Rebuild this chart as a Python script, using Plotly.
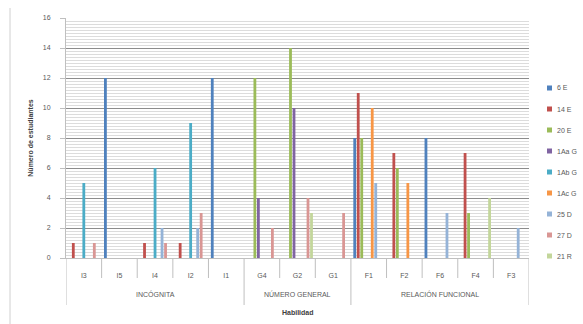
import plotly.graph_objects as go

groups = ["INCÓGNITA"] * 5 + ["NÚMERO GENERAL"] * 3 + ["RELACIÓN FUNCIONAL"] * 5
skills = ["I3", "I5", "I4", "I2", "I1", "G4", "G2", "G1", "F1", "F2", "F6", "F4", "F3"]

series_names = ["6 E", "14 E", "20 E", "1Aa G", "1Ab G", "1Ac G", "25 D", "27 D", "21 R"]
s_6E   = [0, 12, 0, 0, 12, 0, 0, 0, 8, 0, 8, 0, 0]
s_14E  = [1, 0, 1, 1, 0, 0, 0, 0, 11, 7, 0, 7, 0]
s_20E  = [0, 0, 0, 0, 0, 12, 14, 0, 8, 6, 0, 3, 0]
s_1AaG = [0, 0, 0, 0, 0, 4, 10, 0, 0, 0, 0, 0, 0]
s_1AbG = [5, 0, 6, 9, 0, 0, 0, 0, 0, 0, 0, 0, 0]
s_1AcG = [0, 0, 0, 0, 0, 0, 0, 0, 10, 5, 0, 0, 0]
s_25D  = [0, 0, 2, 2, 0, 0, 0, 0, 5, 0, 3, 0, 2]
s_27D  = [1, 0, 1, 3, 0, 2, 4, 3, 0, 0, 0, 0, 0]
s_21R  = [0, 0, 0, 0, 0, 0, 3, 0, 0, 0, 0, 4, 0]
all_series = [s_6E, s_14E, s_20E, s_1AaG, s_1AbG, s_1AcG, s_25D, s_27D, s_21R]
colors = ["#4F81BD", "#C0504D", "#9BBB59", "#8064A2", "#4BACC6",
          "#F79646", "#95B3D7", "#D99694", "#C3D69B"]

fig = go.Figure()
for name, vals, col in zip(series_names, all_series, colors):
    fig.add_trace(go.Bar(x=skills, y=vals, name=name, showlegend=False,
                         marker=dict(color=col, line=dict(width=0))))

font_fam = "Liberation Sans, Arial, sans-serif"
L, T, W, H = 66, 18, 463.0, 240.0
def px_x(px):
    return (px - L) / W
def px_y(py):
    return (T + H - py) / H

fig.update_layout(
    width=583, height=324,
    margin=dict(l=66, r=54, t=18, b=66, autoexpand=False),
    paper_bgcolor="white", plot_bgcolor="white",
    barmode="group", bargap=0.115, bargroupgap=0.2,
    font=dict(family=font_fam, size=7, color="#595959"),
    showlegend=False,
    xaxis=dict(type="category", showgrid=False, automargin=False,
               range=[-0.5, len(skills) - 0.5],
               showline=True, linecolor="#bfbfbf", linewidth=1,
               ticks="outside", ticklen=11, tickcolor="rgba(0,0,0,0)",
               tickfont=dict(size=7, color="#595959")),
    yaxis=dict(range=[0, 16], dtick=2, automargin=False,
               showgrid=True, gridcolor="#8c8c8c", gridwidth=1,
               minor=dict(dtick=0.2, showgrid=True, gridcolor="#dcdcdc", gridwidth=1),
               showline=True, linecolor="#bfbfbf", linewidth=1,
               ticks="outside", ticklen=5, tickcolor="#bfbfbf",
               ticklabelstandoff=8,
               tickfont=dict(size=7, color="#595959"),
               zeroline=False,
               title=dict(text="<b>Número de estudiantes</b>",
                          font=dict(size=7, color="#404040"), standoff=8)),
)

# legend (drawn as small squares + labels)
for i, (name, col) in enumerate(zip(series_names, colors)):
    cy = 88 + i * 21
    fig.add_shape(type="rect", xref="paper", yref="paper",
                  x0=px_x(547), x1=px_x(552), y0=px_y(cy + 2.5), y1=px_y(cy - 2.5),
                  fillcolor=col, line=dict(width=0))
    fig.add_annotation(x=px_x(555), y=px_y(cy), xref="paper", yref="paper",
                       xanchor="left", yanchor="middle", text=name, showarrow=False,
                       font=dict(size=7, color="#595959"))

# category dividers and group labels below the axis
n = len(skills)
group_bounds = [0]
for i in range(1, n):
    if groups[i] != groups[i - 1]:
        group_bounds.append(i)
group_bounds.append(n)
for b in range(n + 1):
    is_group = b in group_bounds
    y_low = px_y(305) if is_group else px_y(278)
    fig.add_shape(type="line", xref="x", yref="paper",
                  x0=b - 0.5, x1=b - 0.5, y0=0, y1=y_low,
                  line=dict(color="#bfbfbf", width=1))
for gi in range(len(group_bounds) - 1):
    a, b = group_bounds[gi], group_bounds[gi + 1]
    fig.add_annotation(x=(a + b - 1) / 2, y=px_y(300), xref="x", yref="paper",
                       text=groups[a], showarrow=False,
                       font=dict(size=7, color="#595959"))
fig.add_annotation(x=0.5, y=px_y(318), xref="paper", yref="paper",
                   text="<b>Habilidad</b>", showarrow=False,
                   font=dict(size=7, color="#404040"))
fig.add_shape(type="line", xref="paper", yref="paper",
              x0=px_x(10), x1=px_x(10), y0=px_y(324), y1=px_y(8),
              line=dict(color="#d0d0d0", width=1))
fig.write_html("out.html", config={"displayModeBar": False},
               post_script="document.body.style.margin='0';")
